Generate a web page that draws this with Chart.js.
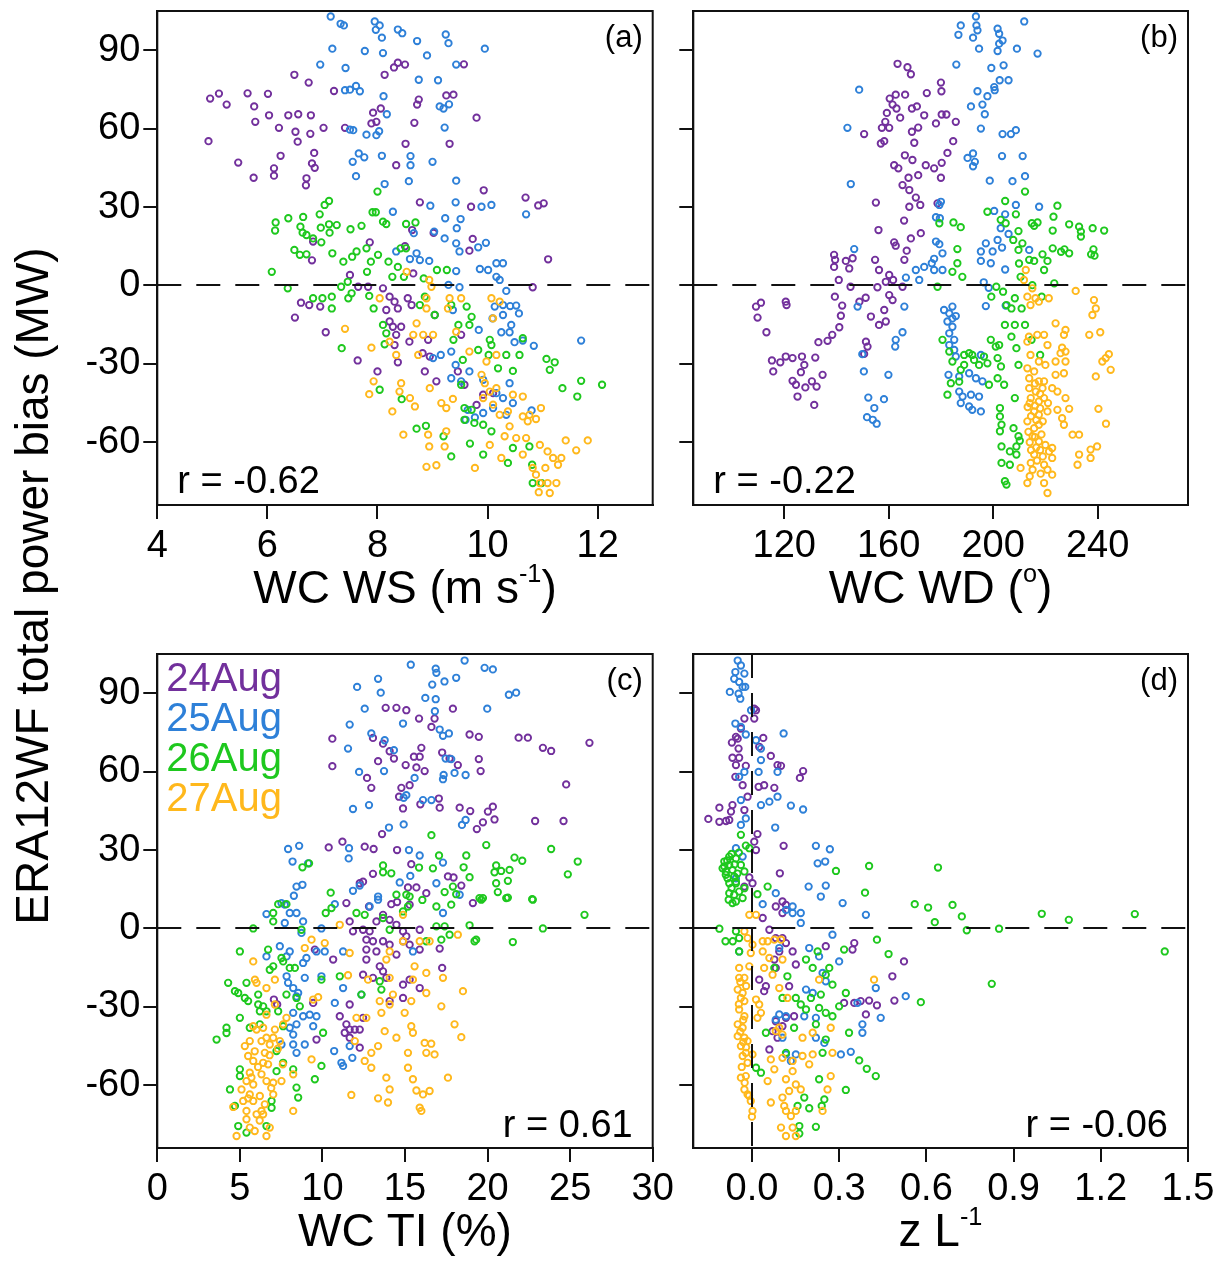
<!DOCTYPE html>
<html>
<head>
<meta charset="utf-8">
<script src="https://cdn.jsdelivr.net/npm/chart.js@4.4.1/dist/chart.umd.min.js"></script>
<style>
    body { margin: 0; background: #fff; width: 1219px; height: 1265px; position: relative; overflow: hidden;
           font-family: "Liberation Sans", Arial, sans-serif; }
    canvas { position: absolute; }
    .ttl { position: absolute; font-size: 46px; line-height: 46px; color: #000; text-align: center; white-space: nowrap; }
    .ttl sup { font-size: 0.55em; position: relative; top: -0.85em; vertical-align: baseline; line-height: 0; }
</style>
</head>
<body>
<canvas id="panelA" width="665" height="565" style="left:0;top:0"></canvas>
<canvas id="panelB" width="554" height="565" style="left:665px;top:0"></canvas>
<canvas id="panelC" width="680" height="568" style="left:0;top:640px"></canvas>
<canvas id="panelD" width="554" height="568" style="left:665px;top:640px"></canvas>

<div class="ttl" style="left:157px;width:496px;top:564px">WC WS (m s<sup>-1</sup>)</div>
<div class="ttl" style="left:693px;width:495px;top:564px">WC WD (<sup>o</sup>)</div>
<div class="ttl" style="left:157px;width:496px;top:1207px">WC TI (%)</div>
<div class="ttl" style="left:693px;width:495px;top:1207px">z L<sup>-1</sup></div>
<div class="ttl" style="left:-368px;width:800px;top:563px;transform:rotate(-90deg)">ERA12WF total power bias (MW)</div>

<script>
(function () {
    var days = ['24Aug', '25Aug', '26Aug', '27Aug'];
    var dayColors = ['#72309c', '#2e80d8', '#1ec81e', '#ffb81c'];

    var yTicks = [-60, -30, 0, 30, 60, 90];
    var wsTicks = [4, 6, 8, 10, 12];
    var wdTicks = [120, 160, 200, 240];
    var tiTicks = [0, 5, 10, 15, 20, 25, 30];
    var zlTicks = [0, 0.3, 0.6, 0.9, 1.2, 1.5];

    // (a) wind speed vs bias
    var ws24 = [[4.96,71.5],[5.12,73.4],[5.26,69.2],[5.64,73.5],[5.76,68.5],[6.01,73.3],[5.78,62.6],[6.03,65.1],[6.38,65.1],[6.56,65.5],[6.79,65.1],[6.21,60.3],[6.51,58.8],[6.78,58],[7.02,60.3],[6.55,55],[4.93,55.2],[5.47,47],[6.24,49.6],[6.85,50.7],[6.81,46.7],[6.86,45],[6.12,44.8],[6.12,42],[5.75,41.2],[6.71,41],[6.7,38.3],[6.49,80.6],[6.75,77.6],[7.21,74.4],[8.13,80.6],[8.3,83.4],[8.37,85.2],[8.5,84.5],[9.57,84.6],[7.92,66.1],[8.06,67.7],[7.98,62.6],[7.89,62],[7.41,60.3],[8.75,71.1],[8.72,69.2],[9.25,72.7],[9.38,73],[8.67,62.2],[9.8,64.2],[8.51,54.2],[9.31,54.2],[8.34,46],[9.93,36.4],[8.77,31.8],[9.7,30.1],[10.69,33.6],[10.92,30.6],[11.02,31.4],[8.63,21.2],[9.02,20.1],[9.73,17.8],[9.67,13.3],[11.1,10.0],[6.83,16.8],[6.81,9.6],[7.86,16.5],[8.5,15.0],
        [7.5,4],[7.65,-0.5],[7.83,-0.5],[10.82,-0.7],[6.61,-6.6],[6.76,-7.5],[6.96,-8.1],[6.5,-12.3],[7.06,-17.9],[7.64,-28.7],[8.0,-32.9],[8.1,-1.1],[8.22,-4.3],[8.31,-6.2],[8.37,-8.8],[8.16,-9.4],[8.28,-15.8],[8.43,-15.8],[8.22,-13.8],[8.34,-18.9],[8.31,-22.8],[8.58,-21.5],[8.37,-29.4],[8.55,-4.9],[8.62,-7.5],[8.92,-20.8],[8.82,-25.9],[8.95,-27.2],[9.04,-11.3],[8.86,-32.9],[9.07,-36.7],[9.52,-18.9],[9.46,-32.9],[9.58,-38],[9.8,-45.7],[9.92,-41.8],[10.1,-41.2],[8.65,4.6]];
    var ws25 = [[7.15,102.9],[7.33,100.1],[7.39,99.5],[7.95,101],[8.04,99.5],[7.97,97.8],[8.08,94.8],[8.37,97.9],[8.45,96.5],[8.72,93.5],[9.24,96],[9.29,92.7],[9.95,90.6],[7.18,90.6],[7.77,89.7],[8.1,88.9],[8.9,88],[6.96,84.5],[7.42,83.2],[9.43,84.5],[8.75,78.7],[9.1,78.5],[7.41,74.7],[7.5,74.9],[7.61,76.3],[7.68,74.3],[8.11,72.4],[9.13,68.5],[9.3,69.3],[9.2,67.7],[8.17,65.5],[9.22,60.4],[7.5,59.6],[7.56,59.4],[7.8,57.7],[8.03,59],[7.98,57.5],[7.66,50.5],[7.76,49],[7.55,47.3],[8.08,49.6],[8.6,49.5],[8.6,46],[9.0,47.3],[7.61,41.8],[8.13,38.8],[8.57,39.9],[9.43,40.1],[8.96,30.5],[9.42,31.8],[9.89,30.1],[10.07,30.8],[10.7,27.2],[8.28,28.2],[9.23,25.7],[9.51,25.4],[9.44,21.9],[9.03,20.6],[8.66,20],[9.22,18],[9.43,16.1],[9.49,13],[9.83,14.6],[9.97,16.3],[8.34,13],[8.71,12.3],[8.94,9.4],[10.16,8.5],[10.28,8.5],
        [8.59,10.1],[8.77,9.7],[9.43,5.5],[9.29,0.2],[9.49,-0.7],[9.86,6.3],[10.01,5.9],[10.16,3.3],[10.22,2.1],[10.34,-2.1],[10.13,-8.1],[10.28,-7.5],[10.41,-7.9],[10.52,-7.7],[10.57,-10.7],[10.28,-11.3],[10.43,-15.1],[10.25,-17.9],[10.4,-17.9],[10.49,-21.7],[10.64,-21.1],[10.84,-23.1],[11.7,-21.1],[10.09,-12.6],[9.84,-17],[9.37,-9.4],[9.15,-26.6],[9.34,-25.3],[9.42,-30.4],[9.34,-35.5],[9.52,-36.7],[9.67,-32.9],[9.92,-36.1],[10.16,-41.2],[10.28,-43.1],[10.4,-37.4],[10.46,-45],[10.8,-47.8],[10.1,-46.9],[10.34,-49.5],[9.6,-51.4],[9.77,-50.5],[9.92,-48.8],[9.64,-47.6],[9.01,-27.8]];
    var ws26 = [[8.0,35.9],[7.12,32.3],[7.04,30.8],[6.95,27.2],[6.65,26.2],[6.38,25.7],[6.15,24.1],[6.14,21],[6.6,22.5],[6.64,20.2],[6.71,19.3],[6.83,18],[6.98,16.5],[6.97,22.1],[7.12,23.4],[7.26,23.1],[7.13,20.2],[7.51,21.5],[7.71,22.8],[7.91,28],[7.97,28],[8.1,24.4],[8.16,23.5],[8.52,23.5],[8.69,24.1],[6.49,13.6],[6.59,11.7],[6.71,11.9],[7.18,12.3],[7.54,11],[7.62,13],[7.8,14.2],[8.01,11.7],[8.42,14.2],[8.52,14.2],[8.2,9.1],[7.38,9.1],
        [6.08,5.2],[6.37,-1.1],[7.88,9.1],[8.37,7.1],[7.81,5.2],[7.46,1.4],[7.34,-0.5],[8.27,3.3],[8.48,3.3],[8.84,2.7],[9.26,5.9],[9.08,5.9],[6.83,-4.9],[7.0,-4.9],[7.17,-4.3],[7.17,-8.8],[7.47,-4.9],[7.53,-3],[7.85,-4],[7.93,-8.8],[8.1,-15.1],[8.16,-18.3],[8.13,-22.5],[7.35,-24],[8.77,-7.5],[8.86,-4.3],[9.04,-11.3],[9.34,-7.5],[9.62,-8.1],[9.71,-12],[9.67,-15.1],[9.47,-15.1],[9.38,-20.8],[10.04,-20.8],[10.07,-22.8],[9.83,-24.7],[10.02,-26.6],[10.34,-26.6],[10.58,-26.6],[10.64,-20.2],[11.07,-28.1],[11.22,-29.4],[11.13,-32.3],[10.19,-31.7],[10.46,-32.7],[11.7,-36.5],[12.08,-38],[11.36,-39.3],[11.63,-42.5],[9.55,-28.5],[9.52,-38],[9.58,-46.9],[9.71,-47.6],[9.58,-51.4],[9.76,-52.6],[9.92,-53.3],[10.07,-55.8],[9.2,-57.7],[9.68,-60.5],[9.92,-64.7],[9.34,-65.4],[10.37,-67.9],[10.46,-62.2],[10.76,-61.6],[10.81,-68.6],[10.82,-75.6],[10.98,-75.6],[8.71,-54.8],[8.88,-53.7],[8.04,-39.9],[8.44,-43.5]];
    var ws27 = [[7.41,-16.6],[7.89,-23.8],[7.93,-36.7],[7.85,-41.6],[8.04,-4.9],[8.22,-21.5],[8.34,-26.6],[8.53,5.2],[8.71,-14.5],[8.65,-18.9],[8.74,-26.6],[8.83,-18.9],[9.01,-18.9],[8.89,-4.9],[8.94,2.1],[8.98,-0.5],[8.89,-8.8],[8.43,-37.4],[8.4,-40.6],[8.59,-43.1],[8.68,-46.3],[8.27,-48.2],[8.47,-57.1],[8.95,-39.3],[8.92,-57.1],[8.94,-61.6],[9.22,-61.6],[8.89,-69.4],[9.07,-68.8],[9.25,-55.8],[9.16,-45],[9.25,-46.9],[9.37,-43.4],[9.31,-4.9],[9.28,-8.8],[9.52,-4.9],[9.43,-17.7],[10.07,-4.9],[10.22,-6.2],[10.1,-12.6],[9.77,-69.8],[10.04,-61],[10.25,-66],[10.31,-57.7],[10.4,-53.9],[10.22,-49.5],[10.46,-41.8],[10.64,-42.5],[9.95,-37.4],[10.04,-40.6],[9.92,-43.1],[10.16,-39.3],[10.64,-50.1],[10.73,-52],[10.76,-49.5],[10.88,-51.1],[10.97,-46.9],[10.52,-58.4],[10.7,-58.4],[10.95,-61],[10.64,-64.7],[11.09,-63.5],[11.19,-66],[11.34,-66],[11.28,-68.6],[11.05,-69.8],[10.88,-72.4],[10.95,-75.6],[11.09,-75.6],[11.25,-75.6],[10.93,-79.1],[11.13,-79.4],[11.42,-59.3],[11.61,-63.1],[11.82,-59.3],[10.1,-45.6],[10.37,-48.2],[10.82,-69.8],[9.67,-25.3],[9.98,-29.1],[10.16,-26.6],[9.89,-34.2]];

    // (b) wind direction vs bias
    var wd24 = [[163.4,84.8],[167.2,83.5],[168.5,80.8],[180,77.6],[180.2,74.3],[174.6,73.6],[160.4,71.5],[162.7,73],[166.3,73],[161.5,69.2],[163,67.7],[168.9,67.7],[170.8,68.5],[173.6,65.1],[180.3,65.4],[182.1,65.4],[164.4,64.2],[159.3,66],[158.7,62.6],[157.4,60.3],[160.2,60.3],[178.1,62],[185.7,62.6],[150.6,57.9],[168.9,58.8],[171.3,60.4],[157,54.3],[158.3,55.2],[169.8,54.6],[184.7,55.2],[182.5,50.7],[166.2,49.8],[169.1,48],[162.1,46],[163.7,44.8],[174.2,46],[177.4,44.8],[180.3,46.9],[167.6,41.2],[171.3,42.2],[180,41.2],[165.3,38.4],[167.9,36.5],[170.4,33.6],[155.1,31.7],[167.9,30.1],[172.1,30.8],[178.7,31.4],[165.9,24.8],[156.1,21.2],[172.3,20],[168.5,18],[162.1,16.5],[162.7,15.2],[166.9,13.3],[139.1,11.7],[139.5,9.8],[143.6,9.4],[146.2,10.4],[154.8,9.8],[166,9.8],
        [144.9,6.5],[139.1,7.1],[156.3,5.9],[160.2,4],[158.9,1.4],[161.7,2.1],[140.9,2.1],[145.4,-0.5],[155.7,-0.7],[165.3,-0.5],[160.2,-3.7],[161.5,-5.6],[158.3,-9.4],[148.8,-6.2],[151.2,-4.7],[153.2,-11.9],[156.3,-15.1],[158.9,-13.8],[139.4,-4.3],[142.2,-7.7],[141.7,-11.6],[141.1,-16],[138.4,-18.9],[133.1,-21.7],[136.6,-21.2],[109.2,-8.1],[111.1,-6.6],[109.8,-12.3],[113.2,-17.9],[120.6,-6.2],[120.9,-7.5],[115.3,-28.7],[118.5,-29.4],[120.6,-27.2],[123.2,-27.8],[126.8,-27.2],[127.7,-30.4],[131.9,-27.6],[115.8,-32.9],[126.4,-33.2],[134.7,-34.2],[123.2,-36.5],[124.5,-38],[128.1,-39],[130.6,-36.7],[132.4,-38.7],[125.1,-42.5],[131.5,-45.7],[151.3,-21.5],[151.9,-23.4],[150.6,-26.2]];
    var wd25 = [[193.4,102.9],[187.6,99.5],[186.7,95.9],[193.6,99.5],[194,97.6],[192.3,94.8],[201.7,98.2],[202.3,96.3],[203.6,93.7],[202.3,92.5],[211.9,101],[194.6,90.6],[201.7,89.7],[209.1,90.6],[217,88.7],[185.9,84.5],[199.3,83.2],[204,84.2],[202.5,78.5],[205.9,78.5],[200.4,75.9],[200.6,74.7],[194,74.3],[197.8,72.4],[195.9,69.2],[191.5,68.5],[196.8,65.5],[195.3,60],[148.7,74.9],[144.2,60.3],[203.6,57.9],[206.8,57.9],[208.7,59.4],[192.3,50.5],[190.2,48.8],[193,47.3],[192.3,45.6],[203.4,49.5],[211.3,49.5],[198.7,40.1],[207.4,39.9],[212.2,41.8],[145.5,38.8],[180,32],[179.4,30.8],[208.7,30.8],[217.6,30.1],[200.4,28.5],[204.6,27.2],[202.9,21.9],[205.9,19.7],[178.1,26.1],[179.6,25.7],[178.1,16.8],[179.4,15.8],[201.7,17.4],[197.2,16.1],[195.3,13],[199.8,13],[203.4,14.5],[146.8,13.9],[177.4,10.2],[180.6,12.3],[176.5,8.5],[195.3,9.4],[199.1,8.5],[213.8,13.6],
        [173.6,7.1],[177.4,5.9],[180.6,5.9],[170.4,5.9],[171.7,2.1],[166.6,3],[166,-8.1],[148.1,-8.1],[165.3,-17.9],[162.7,-20.8],[162.5,-23.4],[149.9,-26.3],[150.5,-32.9],[159.9,-34.2],[152.2,-42.9],[158.2,-43.5],[154.5,-46.9],[151.7,-50.4],[153.9,-51.4],[155.4,-52.9],[204.6,6.1],[196.4,1.2],[198.3,-0.9],[197.2,-7.9],[204.8,-7.7],[181.2,-9.4],[184.4,-8.1],[183.2,-10.7],[184.4,-12.6],[185.7,-11.7],[182.5,-13.8],[184.4,-15.8],[183.2,-18.3],[185.1,-20.8],[183.2,-22.8],[185.1,-24.7],[185.7,-27.2],[182.9,-34.2],[187,-34.8],[190.8,-33.6],[193.4,-35.5],[195.9,-36.7],[187,-40.6],[188.3,-42.5],[191.5,-41.8],[194.6,-42.5],[187.6,-45],[190.8,-46.3],[192,-47.6],[195.3,-48.2],[195.3,-26.6]];
    var wd26 = [[212.2,35.9],[204.6,32.3],[208.7,27.2],[197.8,28.2],[202.9,25.1],[204.8,23.8],[224.6,30.5],[223.1,26.3],[229.1,23.4],[232.9,22.5],[233.6,20.6],[233.6,18.7],[238.1,21.9],[242.5,21],[222.8,21],[214.8,23.8],[215.7,22.8],[217,24.1],[209.7,20.8],[207.7,17.4],[211.2,16.1],[209.7,13.6],[213.8,9.8],[215.7,9.4],[218.9,11.9],[220.8,9.4],[222.8,14.2],[226,12.9],[227.3,13.8],[229.1,12.3],[237.5,11.9],[238.4,13.8],[238.8,11.4],[179.4,23.8],[184.8,24.1],[187.6,22.3],[186.3,13.9],[186.3,8.5],
        [184.4,5.2],[188.2,3.3],[178.7,-0.5],[209.9,8.4],[219.5,5.9],[210.5,3.3],[215,0.1],[223.4,0.8],[201.2,-0.5],[199.3,-4.3],[203.8,-2.4],[205.1,-7.5],[207,-8.8],[210.9,-8.8],[208.3,-4.9],[218.6,-4.3],[204.5,-15.1],[208.3,-15.1],[212.2,-15.1],[207,-19.6],[208.9,-24],[214.7,-20.8],[218,-26.6],[209.7,-30.4],[208.3,-43.1],[202.6,-46.9],[202.6,-50.1],[203.2,-53.3],[202.6,-55.8],[207.8,-54.6],[209.7,-57.7],[203.2,-61.6],[206.4,-63.5],[208.9,-64.7],[203.2,-67.9],[206.4,-68.6],[204.5,-74.9],[205.1,-76.2],[208.9,-61.6],[210.2,-59.4],[180.6,-20.8],[183.2,-25.3],[184.4,-29.1],[188.9,-26.6],[190.8,-25.9],[192,-26.6],[192.7,-28.5],[194.6,-30.4],[196.5,-27.2],[197.8,-29.8],[187.6,-32.3],[188.9,-30.4],[198.4,-38],[199.1,-20.8],[201,-23.4],[202.3,-22.8],[201.7,-27.8],[203,-31],[201.7,-35.5],[204.2,-38],[183.8,-37.4],[182.5,-41.8],[187,-36.8]];
    var wd27 = [[212.5,5.9],[211.8,2.1],[215,-1.1],[213.1,-4.3],[216.2,-4.9],[214.3,-7.5],[217.5,-6.2],[221.3,-4.9],[231.6,-2.1],[238.6,-5.6],[239.3,-8.8],[238,-11.3],[223.9,-14.5],[227.7,-17],[227.1,-18.9],[236.8,-18.9],[241,-17.9],[213.7,-19.6],[216.9,-18.9],[219.5,-18.9],[220.8,-22.8],[213.1,-21.5],[226.4,-23.8],[225.8,-25.9],[227.7,-25.3],[214.3,-26.6],[217.5,-29.1],[220,-30.4],[223.9,-29.1],[227.7,-29.1],[244.3,-26.3],[241.8,-29.1],[245,-32.3],[243.1,-27.8],[239.3,-34.8],[213.1,-31.7],[215.7,-32.9],[213.8,-35.5],[217.5,-36.7],[219.5,-36.7],[223.9,-34.2],[227.1,-33.6],[213.8,-39.3],[216.3,-40.6],[218.9,-39.3],[214.4,-43.1],[217.5,-44.4],[219.5,-43.1],[222.6,-39.3],[224.6,-40.6],[227.7,-43.1],[215.7,-48.2],[217.5,-49.5],[220.8,-48.2],[213.1,-52],[215.7,-54.6],[217.5,-53.3],[224.6,-47.6],[229.1,-47.2],[226.4,-50.8],[227.1,-53.3],[240.3,-47.2],[243.2,-52.9],[230.4,-57.1],[232.9,-57.1],[215.1,-57.7],[217.5,-59.7],[220,-61],[222.6,-62.2],[215.7,-64.7],[219,-65.4],[221.4,-63.5],[222.6,-66],[232.9,-64.7],[237.3,-62.8],[239.8,-61.6],[232.3,-68.6],[237.3,-66],[214.4,-67.9],[215.1,-70.5],[219.5,-68.6],[220.8,-70.5],[222.6,-72.4],[213.1,-75.6],[219.5,-75.6],[220.8,-79.4],[210.5,-69.8],
        [214,-45],[216,-46],[218,-47],[214.5,-50],[216.5,-51.5],[219,-52],[213.5,-56],[216,-58],[218.5,-57],[214,-60],[216.5,-62],[218,-63],[214.5,-63],[216.8,-67],[218.2,-72],[214,-73],[216,-37.5],[218,-41.5],[213.2,-46.5],[221,-45]];

    // (c) turbulence intensity vs bias
    var ti24 = [[13.83,84.4],[14.48,84.4],[15.08,83.5],[17.9,84.1],[15.85,80.3],[16.79,80.3],[16.6,77.1],[10.6,72.6],[13.06,72.9],[13.67,70.7],[14.07,67.8],[14.33,65],[15.99,69.1],[15.54,65.7],[15.89,65.7],[13.37,64],[15.04,62.5],[15.69,61.6],[16.19,60.2],[17.25,67.3],[17.7,65],[18.2,62.5],[18.91,74.2],[19.47,73.3],[19.47,64.8],[19.58,60.2],[21.88,73],[22.44,73],[23.35,69.1],[23.85,67.9],[26.17,71],[10.6,62.1],[12.7,57.6],[12.96,53.8],[14.78,53.8],[15.28,54.8],[14.64,50.4],[14.88,45.9],[15.93,47.5],[17.05,49.7],[17.1,46.2],[18.31,46.2],[18.95,44.9],[20.32,46.6],[20.02,44.7],[20.42,41.7],[19.72,40.6],[19.35,38],[22.88,41.1],[24.6,41.1],[24.76,55.1],[13.61,36.1],[11.21,33.2],[10.38,31],[12.56,31.3],[13.1,30.4],[14.52,30],[15.38,24.6],[13.06,20.9],[15.18,15.7],[15.69,15.7],[17.6,19.9],[17.94,19.5],[18.41,16.4],[16.29,13.5],[14.52,10.1],[11.45,9.7],[12.82,8.4],[19.11,9.7],[14.17,9.3],[12.46,17.9],[12.26,17.3],
        [15.28,9.1],[11.65,2.7],[11.85,-1.1],[12.46,-0.5],[12.86,-1.1],[13.27,2.7],[13.67,5.2],[14.07,3.3],[14.48,1.4],[14.88,-1.1],[15.89,-0.5],[12.66,-4.3],[13.06,-4.9],[13.67,-4.9],[12.66,-8.1],[13.27,-8.8],[14.07,-6.2],[14.48,-10],[12.66,-11.9],[13.47,-14.5],[13.67,-16.4],[13.87,-18.9],[12.46,-17.7],[13.06,-18.9],[14.88,-4.9],[15.08,-3],[15.28,-6.2],[15.89,-8.1],[17.1,-7.7],[17.25,-15.1],[10.65,-11.9],[9.54,-8.1],[9.44,-28.5],[9.64,-42.5],[11.05,-33.6],[11.65,-29.1],[11.45,-36.7],[11.35,-39.9],[11.65,-38.7],[11.96,-38.7],[12.26,-38.7],[12.46,-34.2],[12.26,-45.6],[11.65,-41.8],[7.06,-27.2],[7.26,-29.1],[14.07,-27.8],[14.88,-26.6],[14.88,-21.5],[15.28,-19.6],[15.89,-22.8]];
    var ti25 = [[15.35,100.9],[16.86,99.4],[16.9,97.8],[18.61,102.5],[19.82,99.7],[20.32,99.1],[13.37,95.5],[12.1,92.4],[13.53,90.2],[16.65,93.3],[17.39,94.5],[18.1,95.9],[21.29,89.4],[21.73,90.2],[16.23,88.2],[16.86,87.7],[12.56,84.1],[16.81,83.1],[19.98,84.1],[11.65,78],[14.88,78.4],[17.1,76.1],[17.3,73.7],[17.66,74.6],[12.96,74.6],[13.77,72],[11.55,68.8],[14.33,68.2],[17.46,65],[17.8,64.8],[12.22,59.9],[13.73,60.2],[15.58,57.6],[17.34,58.7],[17.3,57.1],[18.0,59.5],[18.67,58.7],[14.92,50],[15.08,51],[16.09,49.1],[16.6,49.1],[11.85,45.7],[12.82,47.2],[18.67,41.5],[18.45,39.6],[14.03,38.6],[14.92,39.8],[7.92,30.4],[8.59,31.6],[11.61,30.7],[11.59,26.8],[8.19,25.6],[9.13,24.9],[15.24,30],[15.89,27.9],[17.3,25.2],[8.43,16],[8.79,16.7],[8.27,12.5],[11.85,14.4],[12.26,16.4],[14.68,17.6],[16.9,17.3],[15.32,20.1],[13.37,12.2],[7.52,9.7],[10.75,9.3],[18.31,12.9],
        [7.72,9.1],[8.02,5.9],[8.43,5.9],[6.61,5.5],[7.72,2.1],[8.83,2.7],[8.73,-1.7],[9.94,0],[12.86,8.4],[13.37,11],[17.3,5.9],[6.61,-10.7],[7.42,-6.8],[7.83,-10.7],[8.02,-8.8],[8.83,-13.2],[9.03,-11.3],[9.64,-8.8],[10.14,-8.8],[7.83,-18.3],[7.92,-20.8],[8.23,-22.8],[8.53,-24.7],[8.43,-26],[8.93,-18.9],[9.94,-18.3],[8.23,-32.3],[8.43,-36.7],[8.83,-33.6],[9.23,-33],[9.64,-33.6],[9.44,-37.4],[8.23,-40.6],[8.23,-44.4],[8.43,-47.6],[8.93,-44.4],[8.02,-38],[7.52,-44.4],[10.75,-28.5],[11.25,-22.8],[11.65,-45],[11.15,-51.4],[11.25,-52.6],[11.81,-49.5],[10.71,-46.9],[12.36,-25.3],[11.25,-8.8],[15.48,-8.8]];
    var ti26 = [[16.6,35.7],[19.92,31.9],[23.85,30.4],[25.46,25.6],[24.86,20.7],[21.63,27.1],[22.1,25.9],[17.06,27.9],[18.71,27.9],[18.55,23.4],[18.91,19.6],[20.52,24.1],[20.42,21.5],[20.82,22],[21.33,22.4],[21.23,18.2],[20.52,17.3],[20.62,13.9],[21.23,11.8],[22.7,11.2],[19.51,11.6],[19.72,11.6],[13.67,24.1],[13.67,21.5],[14.17,21.1],[15.85,23.3],[16.69,23],[17.9,16],[18.1,13.1],[17.4,13.9],[16.05,10.9],[15.28,12.2],[14.48,12.9],[15.08,12.9],[10.5,13.7],[8.79,23.4],[9.19,24.9],[7.32,9.3],[7.82,9.3],
        [7.02,5.9],[5.81,0],[7.02,2.7],[8.73,-0.5],[10.2,5.9],[10.55,7.8],[12.06,5.9],[12.56,5.2],[13.67,4],[14.07,-0.5],[14.88,6.5],[15.18,8.4],[16.9,8.4],[17.8,9.1],[16.9,0.8],[17.4,0.8],[17.7,-2.4],[17.2,-4.3],[18.91,1.2],[19.31,-4.3],[21.53,-5.2],[23.35,0],[25.87,5.2],[19.62,11],[21.13,11.6],[22.74,11],[5,-8.8],[6.71,-8.1],[6.81,-15.8],[7.02,-14.5],[7.52,-11.3],[7.62,-12.6],[8.02,-15.1],[8.33,-15.1],[4.29,-20.8],[4.7,-24],[4.9,-24.7],[5.4,-20.8],[5.3,-26.6],[5.5,-27.8],[6.11,-25.3],[6.11,-29.1],[6.41,-29.8],[6.21,-31.7],[6.61,-31.7],[7.32,-31.7],[5,-34.2],[5.6,-38],[6.21,-36.7],[4.19,-38],[4.19,-40],[3.59,-42.5],[7.62,-37.4],[7.82,-25.3],[8.43,-26.6],[8.63,-29.8],[7.22,-46.9],[7.62,-51.4],[7.22,-54.6],[5,-53.9],[5,-56.5],[4.4,-61.6],[4.7,-67.9],[4.9,-75.6],[5.4,-78.1],[6.61,-75.6],[6.92,-66],[6.92,-68.6],[8.43,-60.9],[8.53,-64.7],[8.23,-53.9],[9.54,-57.7],[9.94,-52.6],[10.04,-39.9],[11.05,-18.3],[9.94,-19.6],[12.36,-25.3],[13.57,-23.4],[13.47,-20.2],[16.29,-4.9],[19.21,-4.9]];
    var ti27 = [[5.81,-12.6],[5.91,-19.6],[6.01,-20.8],[6.61,-22.8],[7.12,-19.6],[7.12,-29.1],[6.61,-33],[5.81,-37.4],[6.01,-38.7],[6.41,-38],[7.12,-38.7],[7.62,-36.7],[7.82,-34.2],[5.6,-43.1],[6.31,-43.1],[6.61,-41.8],[6.81,-44.4],[7.02,-41.8],[7.42,-43.1],[5.5,-48.8],[5.81,-50.7],[6.51,-47.6],[6.41,-51.4],[6.71,-52],[5.6,-55.2],[6.31,-55.8],[5.4,-58.4],[5.81,-59.7],[6.61,-58.4],[7.02,-59],[7.52,-58.4],[5.1,-61.6],[5.6,-63.5],[6.21,-64.1],[7.02,-63.5],[5.2,-66],[5.81,-66],[6.51,-67.3],[4.6,-68.3],[5.4,-69.8],[6.31,-69.8],[6.01,-71.1],[6.41,-71.1],[5.4,-73],[5.6,-76.2],[6.81,-76.2],[4.8,-79.4],[6.61,-79.4],[8.23,-69.8],[8.23,-55.8],[9.34,-50.1],[9.44,-27.2],[9.74,-26.3],[9.34,-4.3],[8.93,-7.5],[10.14,-5.6],[11.05,1.4],[11.65,-9.4],[11.55,-17.9],[12.06,-34.2],[12.66,-34.2],[11.96,-43.1],[13.47,-27.8],[13.57,-32.3],[13.77,-39.3],[14.07,-29.1],[14.27,-25.3],[14.07,-18.9],[12.76,-19.6],[14.07,-8.8],[13.87,-11.9],[14.88,5.2],[14.88,-4.9],[15.48,-19.6],[15.38,-27.8],[14.98,-32.3],[15.38,-37.4],[15.48,-39.9],[14.48,-41.8],[12.96,-47.6],[13.37,-45],[12.56,-50.7],[12.96,-53.3],[15.18,-47.6],[15.18,-53.3],[13.87,-57.1],[15.48,-57.7],[14.07,-61.6],[15.69,-62],[16.09,-63.5],[16.49,-62.2],[11.75,-63.7],[13.37,-65],[13.97,-66.6],[15.89,-68.6],[15.99,-69.8],[15.58,-14.5],[16.29,-17],[16.29,-24.7],[17.3,-18.9],[17.2,-29.8],[18,-36.7],[18.51,-24],[18.41,-41.6],[16.19,-43.8],[16.59,-44.1],[16.29,-47.6],[16.79,-48.2],[17.6,-57.1],[18.2,-2.4],[16.49,-4.9],[15.89,-4.9],
        [5.3,-45],[5.9,-47],[6.1,-53],[5.7,-57],[6.9,-61],[5.5,-65],[6.2,-73.5],[5.9,-77.5],[6.8,-48.5],[7.3,-46],[7.6,-52]];

    // (d) stability z/L vs bias
    var zl24 = [[0.008,84.1],[0.014,83.5],[0.008,80.3],[-0.026,80.3],[-0.038,76.5],[-0.055,73.3],[-0.049,72.6],[0.039,72.9],[0.025,69.5],[-0.069,71.1],[-0.046,68.8],[-0.067,65.3],[-0.044,65.3],[-0.055,62.5],[-0.021,62.2],[0.065,66],[0.088,62.5],[0.1,62.2],[0.176,60.2],[0.165,57.6],[-0.057,58],[-0.032,54.8],[0.023,54.2],[0.042,54.8],[0.077,53.8],[-0.015,50.4],[-0.112,46.2],[-0.067,47.2],[-0.072,44.7],[-0.026,45.3],[-0.15,41.9],[-0.112,40.8],[-0.089,41.1],[-0.078,41.5],[0.019,36.1],[0.008,33.2],[0.014,30],[0.109,31.6],[0.096,21.1],[-0.009,19.5],[-0.026,16],[0.002,17.3],[0.105,10.3],[0.117,9.0],[0.082,8.4],
        [0.105,5.9],[0.037,4],[0.06,-0.5],[0.082,-3.7],[0.105,-3.7],[0.117,-5.6],[0.14,-8.8],[0.094,-8.8],[0.077,-11.9],[0.151,-13.8],[0.082,-15.1],[0.254,-6.8],[0.346,-8.1],[0.523,-12.6],[0.483,-18.3],[0.025,-19.6],[0.048,-22.1],[0.042,-24],[0.128,-22.1],[0.317,-28.5],[0.352,-28.5],[0.374,-27.8],[0.403,-27.6],[0.43,-29.4],[0.49,-27.6],[0.392,-32.9],[0.082,-35.5],[0.105,-37.4],[0.071,-39.3],[0.088,-41.8],[0.117,-34.2],[0.145,-33.6],[0.06,-46.3],[0.352,-5.6]];
    var zl25 = [[-0.049,102.5],[-0.038,100.6],[-0.057,98.1],[-0.026,97.5],[-0.061,95.5],[-0.044,94.3],[-0.032,92.4],[-0.076,90.5],[-0.046,89.8],[-0.023,92.4],[-0.04,87.9],[-0.003,83.5],[-0.057,78.4],[-0.038,77.1],[-0.021,74.2],[0.014,72],[0.031,68.8],[0.031,64.4],[0.109,74.6],[-0.044,58],[-0.026,59.9],[0.023,59.9],[0.088,59.9],[-0.038,49.1],[0.031,47.2],[0.06,48.5],[0.088,50.4],[0.134,47],[0.176,45.5],[-0.038,39.6],[-0.021,42.1],[0.08,38.6],[-0.055,30.7],[-0.032,27.5],[0.22,31.6],[0.268,30.3],[0.226,24.9],[0.252,25.6],[0.195,16],[0.254,16.4],[0.237,12.2],[0.312,9.7],[0.082,13.5],[0.037,9.3],[0.14,8.4],[-0.055,19.2],
        [0.117,7.1],[0.14,5.9],[0.168,5.9],[0.168,2.1],[0.392,5.2],[0.277,-2.4],[-0.044,-8.8],[0.094,-7.5],[0.197,-7.5],[0.231,-10.7],[0.3,-12.6],[0.243,-17],[0.254,-20.2],[0.186,-23.4],[0.209,-24.7],[0.426,-22.8],[0.529,-25.9],[0.363,-28.5],[0.094,-32.9],[0.117,-33.6],[0.082,-34.9],[0.18,-33.6],[0.22,-34.2],[0.38,-36.7],[0.38,-39.9],[0.443,-34.2],[0.22,-41.8],[0.249,-43.8],[0.117,-48.2],[0.151,-48.2],[0.134,-50.7],[0.306,-48.2],[0.34,-47.2],[0.105,-41.8]];
    var zl26 = [[-0.038,35.8],[-0.021,31.7],[-0.009,30.7],[-0.055,26.8],[-0.078,27.5],[-0.095,25.6],[-0.095,23.7],[-0.078,24.3],[-0.089,21.8],[-0.067,22.4],[-0.084,19.2],[-0.061,19.9],[-0.078,17.3],[-0.055,17.3],[-0.078,13.5],[-0.061,12.9],[-0.044,14.1],[-0.032,11.6],[-0.067,9.7],[-0.055,10.3],[0.019,13.1],[0.054,16],[0.289,22],[0.403,23.9],[0.64,23.3],[0.389,13.7],[0.56,9.3],[0.606,8],[0.69,9.0],[-0.055,17.9],[-0.026,15.4],[-0.101,23],[-0.038,24.3],[-0.026,21.8],
        [-0.085,26],[-0.07,28.5],[-0.09,20.5],[-0.07,15.5],[-0.05,21],[-0.06,24.5],[-0.045,29],[-0.08,11],
        [-0.112,-0.1],[-0.091,-4.9],[-0.066,-4.9],[-0.044,-3.7],[-0.044,-8.8],[-0.055,-1.1],[0.629,2.4],[0.722,4.6],[0.739,-0.7],[0.85,-0.1],[0.997,5.6],[1.09,3.3],[1.317,5.5],[1.42,-8.8],[0.825,-21.2],[0.43,-4.3],[0.47,-9.8],[0.317,-8.1],[0.581,-28.2],[0.323,-24.7],[0.266,-15.1],[0.254,-17.7],[0.226,-8.8],[0.186,-11.9],[0.209,-15.1],[0.277,-21.5],[0.237,-25.3],[0.105,-26.6],[0.151,-26.6],[0.168,-29.1],[0.203,-26.6],[0.186,-31],[0.231,-30.4],[0.254,-32.3],[0.3,-29.8],[0.277,-33.6],[0.077,-15.1],[0.122,-18.3],[0.048,-39.9],[0.145,-38],[0.22,-36.7],[0.254,-42.5],[0.243,-47.6],[0.334,-39.9],[0.369,-50.5],[0.395,-53.7],[0.426,-56.5],[0.117,-47.6],[0.014,-53.3],[0.031,-55.2],[0.231,-57.7],[0.323,-61.8],[0.18,-64.7],[0.249,-65.4],[0.197,-68.8],[0.24,-67.9],[0.157,-67.9],[0.22,-75.9],[0.163,-75.6],[0.163,-78.5]];
    var zl27 = [[-0.009,5.2],[0.014,5.2],[-0.026,-1.1],[-0.015,-3.7],[0.002,-6.2],[-0.004,-9.4],[0.037,-4.9],[0.054,-4.9],[0.077,-4.3],[0.1,-4.3],[0.037,-8.8],[0.06,-11.3],[0.105,-11.9],[-0.044,-15.1],[-0.009,-14.5],[-0.044,-18.9],[-0.026,-18.9],[-0.049,-23.4],[-0.032,-24.7],[-0.038,-26.6],[-0.026,-27.8],[0.014,-27.2],[0.025,-29.1],[0.031,-32.3],[0.019,-34.2],[-0.044,-31],[-0.026,-33.6],[-0.049,-36.7],[-0.032,-38],[-0.049,-41.2],[-0.026,-41.8],[-0.015,-43.1],[-0.038,-45],[-0.021,-47.6],[-0.032,-48.8],[0.002,-48.2],[-0.015,-51.4],[-0.038,-57.1],[-0.021,-56.5],[-0.026,-61.6],[-0.015,-63.5],[-0.004,-66],[0.002,-69.8],[0.054,-58.4],[0.065,-66.6],[0.1,-76.2],[0.117,-79.4],[0.151,-79.4],[0.14,-76.2],[0.111,-67.9],[0.117,-69.8],[0.134,-71.8],[0.151,-69.8],[0.105,-64.7],[0.128,-62.2],[0.151,-59.7],[0.168,-61.6],[0.117,-57.7],[0.14,-54.6],[0.105,-49.5],[0.14,-50.7],[0.065,-50.1],[0.077,-53.9],[0.082,-39.3],[0.105,-40.6],[0.094,-38],[0.174,-41.8],[0.209,-39.9],[0.209,-48.2],[0.174,-48.8],[0.197,-52],[0.271,-56.5],[0.26,-61.6],[0.243,-69.8],[0.277,-47.6],[0.271,-38],[0.231,-19.6],[0.42,-19.6],[0.042,-15.1],[0.071,-17.7],[0.094,-22.8],[0.122,-26.6],
        [-0.04,-20.5],[-0.02,-22],[-0.045,-29],[-0.03,-35],[-0.04,-39.5],[-0.02,-45.5],[-0.035,-53],[-0.025,-59],[-0.01,-64],[0.0,-72],[-0.03,-43.5]];

    var FONT = '"Liberation Sans", Arial, sans-serif';
    Chart.defaults.font.family = FONT;
    Chart.defaults.color = '#000';

    // box, dashed zero lines, panel tag, r value, legend
    var panelDecor = {
        id: 'panelDecor',
        afterDatasetsDraw: function (chart, args, o) {
            var ctx = chart.ctx, a = chart.chartArea;
            var xs = chart.scales.x, ys = chart.scales.y;
            ctx.save();
            ctx.strokeStyle = '#111';
            ctx.lineWidth = 2;
            ctx.setLineDash([24, 15]);
            var y0 = Math.round(ys.getPixelForValue(0));
            ctx.beginPath(); ctx.moveTo(a.left, y0); ctx.lineTo(a.right, y0); ctx.stroke();
            if (o.vZero) {
                var x0 = Math.round(xs.getPixelForValue(0));
                ctx.beginPath(); ctx.moveTo(x0, a.top); ctx.lineTo(x0, a.bottom); ctx.stroke();
            }
            ctx.setLineDash([]);
            ctx.strokeRect(a.left, a.top, a.right - a.left, a.bottom - a.top);

            ctx.fillStyle = '#000';
            ctx.textBaseline = 'alphabetic';
            ctx.font = '31px ' + FONT;
            ctx.textAlign = 'right';
            ctx.fillText(o.tag, a.right - 10, a.top + 36);

            ctx.font = '38px ' + FONT;
            if (o.rRight) {
                ctx.textAlign = 'right';
                ctx.fillText(o.rText, a.right - 20, a.bottom - 11);
            } else {
                ctx.textAlign = 'left';
                ctx.fillText(o.rText, a.left + 20, a.bottom - 12);
            }

            if (o.legend) {
                ctx.font = '40px ' + FONT;
                ctx.textAlign = 'left';
                days.forEach(function (d, i) {
                    ctx.fillStyle = dayColors[i];
                    ctx.fillText(d, a.left + 9, a.top + 37 + i * 40);
                });
            }
            ctx.restore();
        }
    };

    function makeSets(series) {
        return series.map(function (pts, i) {
            return {
                label: days[i],
                data: pts.map(function (p) { return { x: p[0], y: p[1] }; }),
                borderColor: dayColors[i],
                backgroundColor: 'rgba(0,0,0,0)',
                pointRadius: 3.2,
                pointBorderWidth: 1.9,
                pointHoverRadius: 3.2,
                order: 3 - i
            };
        });
    }

    function axisGrid() {
        return { display: true, drawOnChartArea: false, drawTicks: true, tickLength: 14, color: '#111', lineWidth: 2 };
    }

    function makeChart(id, c) {
        new Chart(document.getElementById(id), {
            type: 'scatter',
            data: { datasets: makeSets(c.series) },
            options: {
                responsive: false,
                animation: false,
                devicePixelRatio: 1,
                events: [],
                layout: { padding: { left: 0, top: c.padTop, right: c.padRight, bottom: 0 } },
                plugins: {
                    legend: { display: false },
                    tooltip: { enabled: false },
                    panelDecor: { tag: c.tag, rText: c.rText, rRight: c.rRight, legend: c.legend, vZero: c.vZero }
                },
                scales: {
                    x: {
                        type: 'linear', position: 'bottom', min: c.xMin, max: c.xMax,
                        afterBuildTicks: function (s) { s.ticks = c.xTicks.map(function (v) { return { value: v }; }); },
                        afterFit: function (s) { s.height = 60; s.paddingLeft = 0; s.paddingRight = 0; },
                        ticks: { font: { size: 38 }, color: '#000', padding: 5, maxRotation: 0, autoSkip: false,
                                 callback: c.xFmt },
                        grid: axisGrid(),
                        border: { display: true, color: '#111', width: 2 }
                    },
                    y: {
                        type: 'linear', position: 'left', min: -84, max: 105,
                        afterBuildTicks: function (s) { s.ticks = yTicks.map(function (v) { return { value: v }; }); },
                        afterFit: function (s) { s.width = c.yWidth; s.paddingTop = 0; s.paddingBottom = 0; },
                        ticks: { display: c.yLabels, font: { size: 38 }, color: '#000', padding: 3, autoSkip: false,
                                 callback: function (v) { return String(v); } },
                        grid: axisGrid(),
                        border: { display: true, color: '#111', width: 2 }
                    }
                }
            },
            plugins: [panelDecor]
        });
    }

    var plainFmt = function (v) { return String(v); };

    makeChart('panelA', { series: [ws24, ws25, ws26, ws27], xMin: 4, xMax: 13, xTicks: wsTicks, xFmt: plainFmt,
        padTop: 11, padRight: 12.3, yWidth: 157.3, yLabels: true, tag: '(a)', rText: 'r = -0.62', rRight: false });
    makeChart('panelB', { series: [wd24, wd25, wd26, wd27], xMin: 85.2, xMax: 274.6, xTicks: wdTicks, xFmt: plainFmt,
        padTop: 11, padRight: 31, yWidth: 28.3, yLabels: false, tag: '(b)', rText: 'r = -0.22', rRight: false });
    makeChart('panelC', { series: [ti24, ti25, ti26, ti27], xMin: 0, xMax: 30, xTicks: tiTicks, xFmt: plainFmt,
        padTop: 14, padRight: 27.3, yWidth: 157.3, yLabels: true, tag: '(c)', rText: 'r = 0.61', rRight: true, legend: true });
    makeChart('panelD', { series: [zl24, zl25, zl26, zl27], xMin: -0.2017, xMax: 1.5, xTicks: zlTicks,
        xFmt: function (v) { return v.toFixed(1); },
        padTop: 14, padRight: 31, yWidth: 28.3, yLabels: false, tag: '(d)', rText: 'r = -0.06', rRight: true, vZero: true });
})();
</script>
</body>
</html>
